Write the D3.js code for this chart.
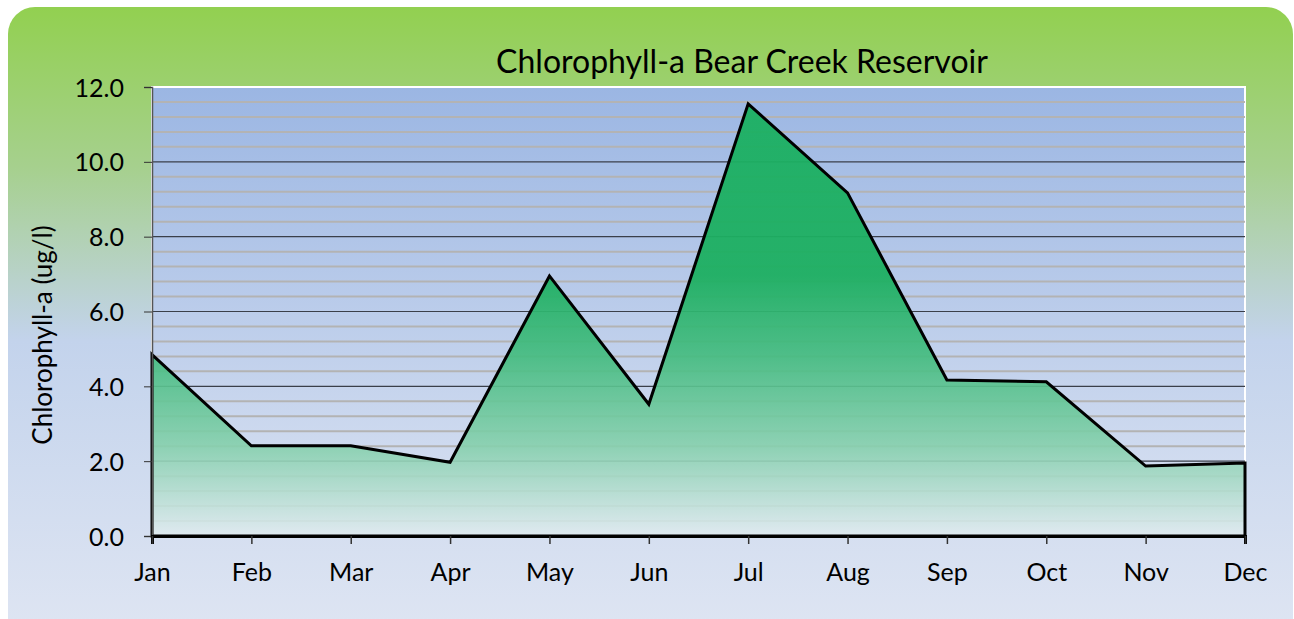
<!DOCTYPE html>
<html>
<head>
<meta charset="utf-8">
<script src="https://cdn.jsdelivr.net/npm/d3@7"></script>
<style>
  body { margin: 0; background: #fff; }
  svg { display: block; }
  text { font-family: Lato, "Open Sans", sans-serif; }
</style>
</head>
<body>
<script>
var w = 1294; // width of SVG space
var h = 619; // height of SVG space

// chart data
var months = ["Jan", "Feb", "Mar", "Apr", "May", "Jun", "Jul", "Aug", "Sep", "Oct", "Nov", "Dec"];
var chlorophyll = [4.85, 2.41, 2.41, 1.97, 6.95, 3.52, 11.55, 9.17, 4.17, 4.12, 1.87, 1.95];
var yTicks = [0, 2, 4, 6, 8, 10, 12];
var minorTicks = d3.range(0, 12.01, 0.4);

var margin = { left: 152, right: 49, top: 87, bottom: 83 };
var pw = w - margin.left - margin.right;
var ph = h - margin.top - margin.bottom;

var svg = d3.select("body").append("svg").attr("width", w).attr("height", h);
var defs = svg.append("defs");

// outer background gradient: green on top fading to pale blue
var bg = defs.append("linearGradient").attr("id", "bg").attr("x1", 0).attr("y1", 0).attr("x2", 0).attr("y2", 1);
bg.append("stop").attr("offset", "0%").attr("stop-color", "#92d050");
bg.append("stop").attr("offset", "25%").attr("stop-color", "#a6d08e");
bg.append("stop").attr("offset", "52%").attr("stop-color", "#c3d3ec");
bg.append("stop").attr("offset", "100%").attr("stop-color", "#e0e6f3");

// plot area gradient
var pg = defs.append("linearGradient").attr("id", "pg").attr("x1", 0).attr("y1", 0).attr("x2", 0).attr("y2", 1);
pg.append("stop").attr("offset", "0%").attr("stop-color", "#9bb6e3");
pg.append("stop").attr("offset", "100%").attr("stop-color", "#dbe3f2");

// area fill gradient (local coords of the plot group)
var ag = defs.append("linearGradient").attr("id", "ag").attr("gradientUnits", "userSpaceOnUse")
  .attr("x1", 0).attr("y1", 0).attr("x2", 0).attr("y2", ph);
ag.append("stop").attr("offset", "0%").attr("stop-color", "#1bb062").attr("stop-opacity", 0.95);
ag.append("stop").attr("offset", "42%").attr("stop-color", "#1daf61").attr("stop-opacity", 0.95);
ag.append("stop").attr("offset", "60%").attr("stop-color", "#45bc80").attr("stop-opacity", 0.92);
ag.append("stop").attr("offset", "80%").attr("stop-color", "#86d0ad").attr("stop-opacity", 0.9);
ag.append("stop").attr("offset", "100%").attr("stop-color", "#e0eaf0").attr("stop-opacity", 0.9);

svg.append("rect").attr("x", 8).attr("y", 7).attr("width", w - 9).attr("height", h - 7 + 30)
  .attr("rx", 27).attr("fill", "url(#bg)");

var x = d3.scalePoint().domain(months).range([0, pw]);
var y = d3.scaleLinear().domain([0, 12]).range([ph, 0]);

var g = svg.append("g").attr("transform", "translate(" + margin.left + "," + margin.top + ")");

g.append("rect").attr("width", pw).attr("height", ph).attr("fill", "url(#pg)")
  .attr("stroke", "#fff").attr("stroke-width", 2);

// minor gridlines
g.selectAll(".minor").data(minorTicks.filter(function (d) { return Math.abs(d / 2 - Math.round(d / 2)) > 0.01; }))
  .enter().append("line").attr("class", "minor")
  .attr("x1", 0).attr("x2", pw)
  .attr("y1", function (d) { return y(d); }).attr("y2", function (d) { return y(d); })
  .attr("stroke", "#b3b3b3").attr("stroke-width", 2);

// major gridlines
g.selectAll(".major").data(yTicks.filter(function (d) { return d > 0 && d < 12; }))
  .enter().append("line").attr("class", "major")
  .attr("x1", 0).attr("x2", pw)
  .attr("y1", function (d) { return y(d); }).attr("y2", function (d) { return y(d); })
  .attr("stroke", "#3a3f4a").attr("stroke-width", 1.2);

// the area
var area = d3.area().x(function (d, i) { return x(months[i]); }).y0(ph).y1(function (d) { return y(d); });
g.append("path").datum(chlorophyll).attr("d", area)
  .attr("fill", "url(#ag)").attr("stroke", "#000").attr("stroke-width", 3).attr("stroke-linejoin", "miter");

// y axis
var yAxis = g.append("g").call(d3.axisLeft(y).tickValues(yTicks).tickFormat(d3.format(".1f")).tickSize(8).tickPadding(20));
yAxis.attr("font-family", null).attr("font-size", null);
yAxis.select(".domain").attr("stroke", "#555").attr("stroke-width", 1.5);
yAxis.selectAll(".tick line").attr("stroke", "#333");
yAxis.selectAll("text").attr("font-size", 25).attr("fill", "#000").attr("dy", "0.36em");

// x axis
var xAxis = g.append("g").attr("transform", "translate(0," + ph + ")")
  .call(d3.axisBottom(x).tickSize(8).tickPadding(19));
xAxis.attr("font-family", null).attr("font-size", null);
xAxis.select(".domain").attr("stroke", "#000").attr("stroke-width", 3);
xAxis.selectAll(".tick line").attr("stroke", "#333").attr("stroke-width", 1.5);
xAxis.selectAll("text").attr("font-size", 25).attr("fill", "#000");

// title
svg.append("text").attr("x", 742).attr("y", 73).attr("text-anchor", "middle")
  .attr("font-size", 32).attr("fill", "#000").text("Chlorophyll-a Bear Creek Reservoir");

// y axis label
svg.append("text").attr("transform", "translate(52,335) rotate(-90)").attr("text-anchor", "middle")
  .attr("font-size", 26).attr("fill", "#000").text("Chlorophyll-a (ug/l)");
</script>
</body>
</html>
